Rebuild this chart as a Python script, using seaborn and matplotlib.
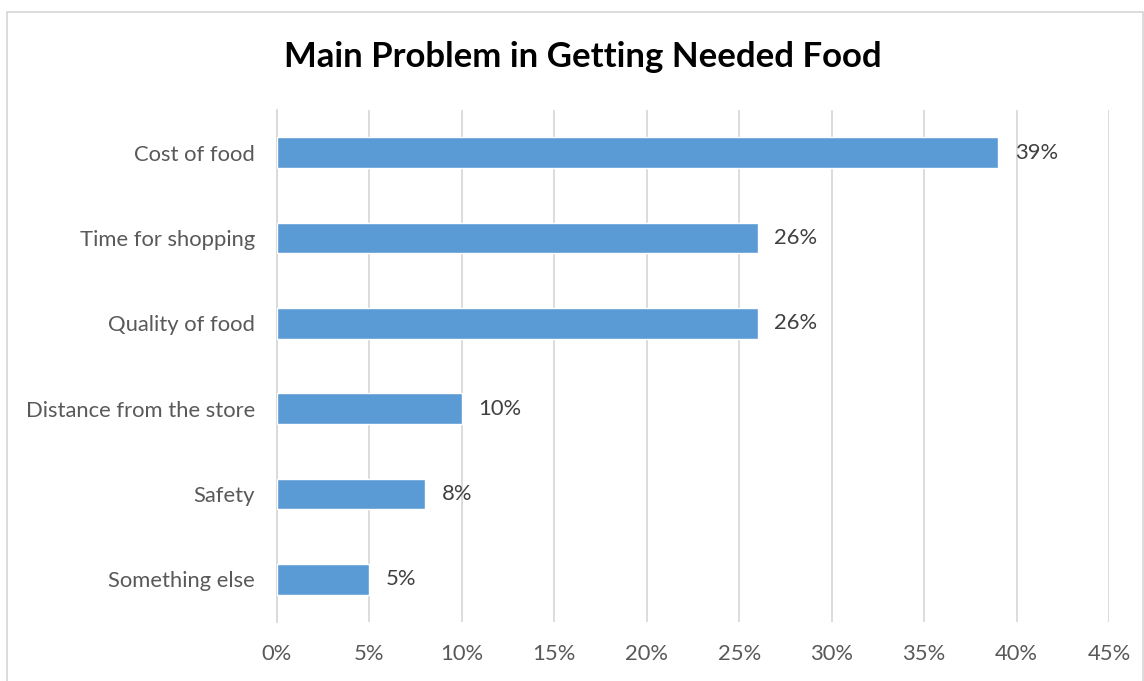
import matplotlib
matplotlib.use("Agg")
import matplotlib.pyplot as plt
import matplotlib.patches as mpatches
from matplotlib.ticker import FuncFormatter, MultipleLocator
import seaborn as sns
import pandas as pd

categories = ["Cost of food", "Time for shopping", "Quality of food",
              "Distance from the store", "Safety", "Something else"]
values = [39, 26, 26, 10, 8, 5]
value_labels = ["39%", "26%", "26%", "10%", "8%", "5%"]
title = "Main Problem in Getting Needed Food"

sns.set_style("white")
plt.rcParams['font.family'] = ['Lato', 'DejaVu Sans']

W, H = 1144, 681
fig = plt.figure(figsize=(W / 100, H / 100), dpi=100)
ax = fig.add_axes([277 / W, 1 - 622 / H, (1109 - 277) / W, (622 - 110) / H])

df = pd.DataFrame({"category": categories, "value": values})
sns.barplot(data=df, x="value", y="category", orient="h", color="#5B9BD5",
            saturation=1, width=0.36, ax=ax, zorder=3)

ax.set_xlim(0, 45)
ax.xaxis.set_major_locator(MultipleLocator(5))
ax.xaxis.set_major_formatter(FuncFormatter(lambda v, p: f"{int(round(v))}%"))
ax.set_xlabel("")
ax.set_ylabel("")
ax.grid(axis="x", color="#D9D9D9", linewidth=1.3, zorder=0)
ax.grid(axis="y", visible=False)
for s in ["top", "right", "bottom"]:
    ax.spines[s].set_visible(False)
ax.spines["left"].set_color("#D9D9D9")
ax.spines["left"].set_linewidth(1.3)
ax.tick_params(axis="both", length=0, labelsize=15.8, labelcolor="#595959")
ax.tick_params(axis="x", pad=16)
ax.tick_params(axis="y", pad=16)

for cont in ax.containers:
    ax.bar_label(cont, labels=value_labels, padding=12, fontsize=15.8, color="#404040")

fig.text(583 / W, 1 - 57 / H, title, ha="center", va="center",
         fontsize=25, fontweight="bold", color="black")

rect = mpatches.Rectangle((7 / W, -0.05), (1143 - 7) / W, 1.05 - 12 / H,
                          transform=fig.transFigure, fill=False,
                          edgecolor="#D9D9D9", linewidth=1.3)
fig.patches.append(rect)

fig.savefig("out.png", dpi=100)
